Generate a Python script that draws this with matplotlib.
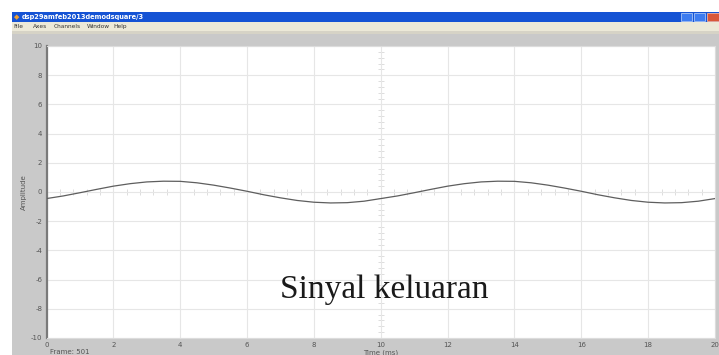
import matplotlib as mpl
mpl.use('Agg')

import matplotlib.pyplot as plt
import numpy as np
from matplotlib.patches import Rectangle

plt.rcParams['axes.unicode_minus'] = False

# scope output, one sample every 0.5 ms
time_ms = np.arange(0, 20.5, 0.5)
amplitude = [-0.45, -0.27, -0.05, 0.18, 0.40, 0.57, 0.69, 0.74, 0.73, 0.63,
             0.47, 0.27, 0.05, -0.19, -0.40, -0.58, -0.70, -0.75, -0.73, -0.63,
             -0.45, -0.27, -0.05, 0.18, 0.40, 0.57, 0.69, 0.74, 0.73, 0.63,
             0.47, 0.27, 0.05, -0.19, -0.40, -0.58, -0.70, -0.75, -0.73, -0.63,
             -0.45]

x_ticks = list(range(0, 21, 2))
y_ticks = list(range(-10, 11, 2))

window_title = 'dsp29amfeb2013demodsquare/3'
menu_items = ['File', 'Axes', 'Channels', 'Window', 'Help']
caption = 'Sinyal keluaran'
frame_text = 'Frame: 501'

W, H = 719, 355
fig = plt.figure(figsize=(W / 100, H / 100), dpi=100)
fig.patch.set_facecolor('white')


def px_rect(x0, y0, x1, y1, **kw):
    # rectangle given in pixel coordinates measured from the top left
    fig.patches.append(Rectangle((x0 / W, 1 - y1 / H), (x1 - x0) / W, (y1 - y0) / H,
                                 transform=fig.transFigure, figure=fig, zorder=-5, **kw))


# window frame
px_rect(12, 33, W, H, facecolor='#c9c9c9', edgecolor='none')
px_rect(12, 12, W, 22, facecolor='#1553d4', edgecolor='none')
px_rect(12, 22, W, 31, facecolor='#ece9d8', edgecolor='none')
px_rect(12, 31, W, 34, facecolor='#d6d3c6', edgecolor='none')
# title bar buttons
px_rect(681, 13, 692, 21, facecolor='#3d7cf0', edgecolor='#a8c4f5', linewidth=0.6)
px_rect(694, 13, 705, 21, facecolor='#3d7cf0', edgecolor='#a8c4f5', linewidth=0.6)
px_rect(707, 13, 719, 21, facecolor='#d9573a', edgecolor='#f0b0a0', linewidth=0.6)

fig.text(14 / W, 1 - 17 / H, u'\u25c6', color='#f0a030', fontsize=5, va='center')
fig.text(22 / W, 1 - 17 / H, window_title, color='white', fontsize=4.8,
         fontweight='bold', va='center')
mx = 13
for item in menu_items:
    fig.text(mx / W, 1 - 26.5 / H, item, color='#333333', fontsize=4.2, va='center')
    mx += len(item) * 3.1 + 8

ax = fig.add_axes([46.5 / W, 1 - 338 / H, (715 - 46.5) / W, (338 - 46) / H])
ax.set_facecolor('white')
ax.set_xlim(0, 20)
ax.set_ylim(-10, 10)
ax.set_xticks(x_ticks)
ax.set_yticks(y_ticks)
ax.grid(True, color='#e6e6e6', linewidth=0.8)
ax.tick_params(length=0, labelsize=5, colors='#555555', pad=3)
for side in ['top', 'right', 'bottom']:
    ax.spines[side].set_color('#dcdcdc')
    ax.spines[side].set_linewidth(0.8)
ax.spines['left'].set_color('#7a7a7a')
ax.spines['left'].set_linewidth(1.6)

# centre cross with minor divisions
ax.axvline(10, color='#dedede', linewidth=0.6, zorder=1)
ax.axhline(0, color='#dedede', linewidth=0.6, zorder=1)
minor_x = np.arange(0, 20.01, 0.4)
minor_y = np.arange(-10, 10.01, 0.4)
ax.plot(minor_x, np.zeros_like(minor_x), linestyle='none', marker='|',
        markersize=4, color='#d8d8d8', markeredgewidth=0.6, zorder=1)
ax.plot(np.full_like(minor_y, 10), minor_y, linestyle='none', marker='_',
        markersize=4, color='#d8d8d8', markeredgewidth=0.6, zorder=1)

ax.plot(time_ms, amplitude, color='#5e5e5e', linewidth=0.9, zorder=3)

ax.set_ylabel('Amplitude', fontsize=5, color='#555555', labelpad=3)
ax.set_xlabel('Time (ms)', fontsize=5, color='#555555', labelpad=1)

fig.text(50 / W, 1 - 352 / H, frame_text, fontsize=5, color='#555555', va='center')
ax.text(10.1, -6.7, caption, fontsize=24, family='Liberation Serif',
        ha='center', va='center', color='#1a1a1a', zorder=4)

fig.savefig('out.png', dpi=100, facecolor=fig.get_facecolor())
